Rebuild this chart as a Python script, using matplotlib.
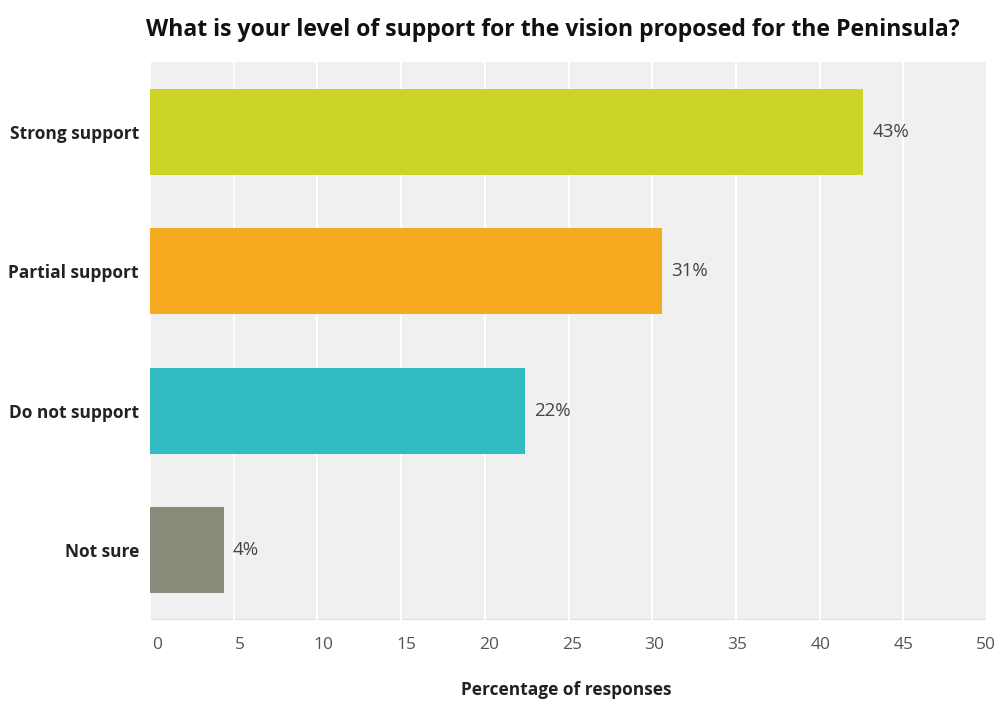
import matplotlib
matplotlib.use("Agg")
import matplotlib.pyplot as plt
import matplotlib.transforms as mtransforms

categories = ["Strong support", "Partial support", "Do not support", "Not sure"]
values = [42.6, 30.6, 22.4, 4.4]
value_labels = ["43%", "31%", "22%", "4%"]
colors = ["#ccd428", "#f5aa1f", "#30bcc0", "#8a8a7b"]
xticks = [0, 5, 10, 15, 20, 25, 30, 35, 40, 45, 50]

plt.rcParams['font.family'] = ['Open Sans', 'DejaVu Sans']

fig = plt.figure(figsize=(9.99, 7.08), dpi=100)
ax = fig.add_axes([150/999, 1-620/708, (987-150)/999, (620-62)/708])
ax.set_facecolor("#f0f0f0")

ypos = list(range(len(categories)))
ax.barh(ypos, values, height=0.62, color=colors, zorder=3)
ax.set_xlim(0, 50)
ax.set_ylim(3.5, -0.5)
ax.set_xticks(xticks)
ax.set_xticklabels([])
# tick labels drawn slightly shifted right (less so toward the right end), as in the reference
base = mtransforms.blended_transform_factory(ax.transData, ax.transAxes)
for t in xticks:
    shift_px = 7.5 - t * 0.17
    trans = base + mtransforms.ScaledTranslation(shift_px / 100, 0, fig.dpi_scale_trans)
    ax.text(t, -0.045, str(t), transform=trans, ha="center", va="center",
            fontsize=12.5, color="#555555")
ax.set_yticks(ypos)
ax.set_yticklabels(categories, fontsize=12.5, fontweight="bold", color="#222222")
ax.tick_params(axis="both", length=0)
ax.tick_params(axis="y", pad=8)
ax.grid(axis="x", color="white", linewidth=1.5, zorder=0)
ax.grid(axis="y", visible=False)
for s in ax.spines.values():
    s.set_visible(False)
ax.axhline(3.5, color="#dddddd", linewidth=1.5, zorder=1)

for y, v, t in zip(ypos, values, value_labels):
    ax.text(v + 0.55, y, t, va="center", ha="left", fontsize=13.5, color="#444444", zorder=4)

fig.text(566/999, 1-690/708, "Percentage of responses", ha="center", va="center",
         fontsize=12.5, fontweight="bold", color="#222222")
fig.text(553/999, 1-30/708, "What is your level of support for the vision proposed for the Peninsula?",
         ha="center", va="center", fontsize=16.6, fontweight="bold", color="#111111")

fig.savefig("out.png", dpi=100)
